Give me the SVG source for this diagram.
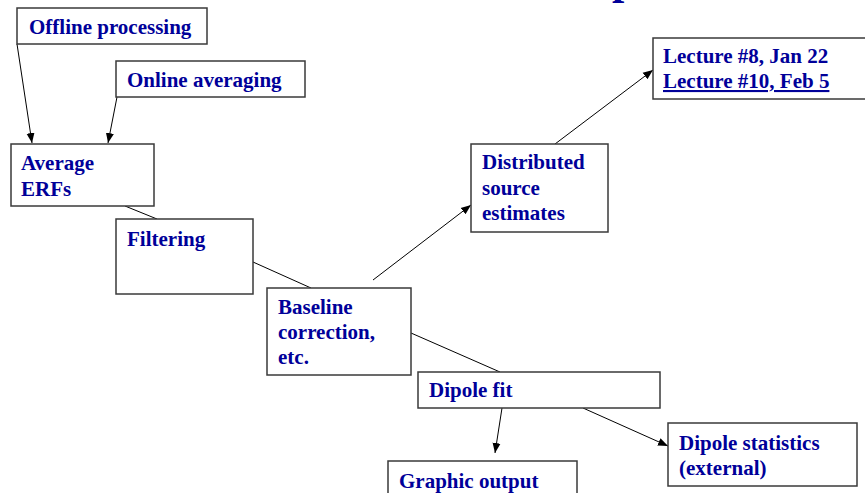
<svg xmlns="http://www.w3.org/2000/svg" width="865" height="493" viewBox="0 0 865 493">
<style>
.box{fill:#fff;stroke:#3a3a3a;stroke-width:1.5}
.t{font-family:"Liberation Serif","Times New Roman",serif;font-weight:bold;font-size:21px;fill:#000099}
.ln{stroke:#000;stroke-width:1;fill:none}
</style>
<defs>
<marker id="ah" viewBox="0 0 10 10" refX="10" refY="5" markerWidth="10" markerHeight="10" markerUnits="userSpaceOnUse" orient="auto">
<path d="M0,1 L10,5 L0,9 z" fill="#000"/>
</marker>
</defs>
<text class="t" x="612" y="-6.5" style="font-size:44px">p</text>
<g id="connectors">
<line class="ln" x1="17" y1="44" x2="32" y2="143" marker-end="url(#ah)"/>
<line class="ln" x1="117" y1="97" x2="108" y2="143" marker-end="url(#ah)"/>
<line class="ln" x1="125" y1="206" x2="157" y2="219"/>
<line class="ln" x1="253" y1="262" x2="311" y2="288"/>
<line class="ln" x1="373" y1="280" x2="471" y2="205" marker-end="url(#ah)"/>
<line class="ln" x1="555" y1="144" x2="653" y2="70" marker-end="url(#ah)"/>
<line class="ln" x1="411" y1="333" x2="500" y2="372"/>
<line class="ln" x1="502" y1="408" x2="495" y2="453" marker-end="url(#ah)"/>
<line class="ln" x1="583" y1="408" x2="668" y2="446" marker-end="url(#ah)"/>
</g>
<g id="offline">
<rect class="box" x="17" y="8" width="190" height="36"/>
<text class="t" x="29" y="34">Offline processing</text>
</g>
<g id="online">
<rect class="box" x="116" y="61" width="189" height="36"/>
<text class="t" x="127" y="87">Online averaging</text>
</g>
<g id="average">
<rect class="box" x="11" y="144" width="143" height="62"/>
<text class="t" x="21" y="170">Average</text>
<text class="t" x="21" y="196">ERFs</text>
</g>
<g id="filtering">
<rect class="box" x="116" y="219" width="137" height="75"/>
<text class="t" x="127" y="246">Filtering</text>
</g>
<g id="baseline">
<rect class="box" x="267" y="288" width="144" height="87"/>
<text class="t" x="278" y="314">Baseline</text>
<text class="t" x="278" y="339">correction,</text>
<text class="t" x="278" y="364">etc.</text>
</g>
<g id="distributed">
<rect class="box" x="471" y="144" width="137" height="88"/>
<text class="t" x="482" y="169">Distributed</text>
<text class="t" x="482" y="195">source</text>
<text class="t" x="482" y="220">estimates</text>
</g>
<g id="lecture">
<rect class="box" x="653" y="38" width="220" height="61"/>
<text class="t" x="663" y="63">Lecture #8, Jan 22</text>
<text class="t" x="663" y="88" text-decoration="underline">Lecture #10, Feb 5</text>
</g>
<g id="dipolefit">
<rect class="box" x="418" y="372" width="242" height="36"/>
<text class="t" x="429" y="397">Dipole fit</text>
</g>
<g id="graphic">
<rect class="box" x="388" y="461" width="189" height="40"/>
<text class="t" x="399" y="488">Graphic output</text>
</g>
<g id="dipolestats">
<rect class="box" x="668" y="423" width="189" height="63"/>
<text class="t" x="679" y="450">Dipole statistics</text>
<text class="t" x="679" y="475">(external)</text>
</g>
</svg>
